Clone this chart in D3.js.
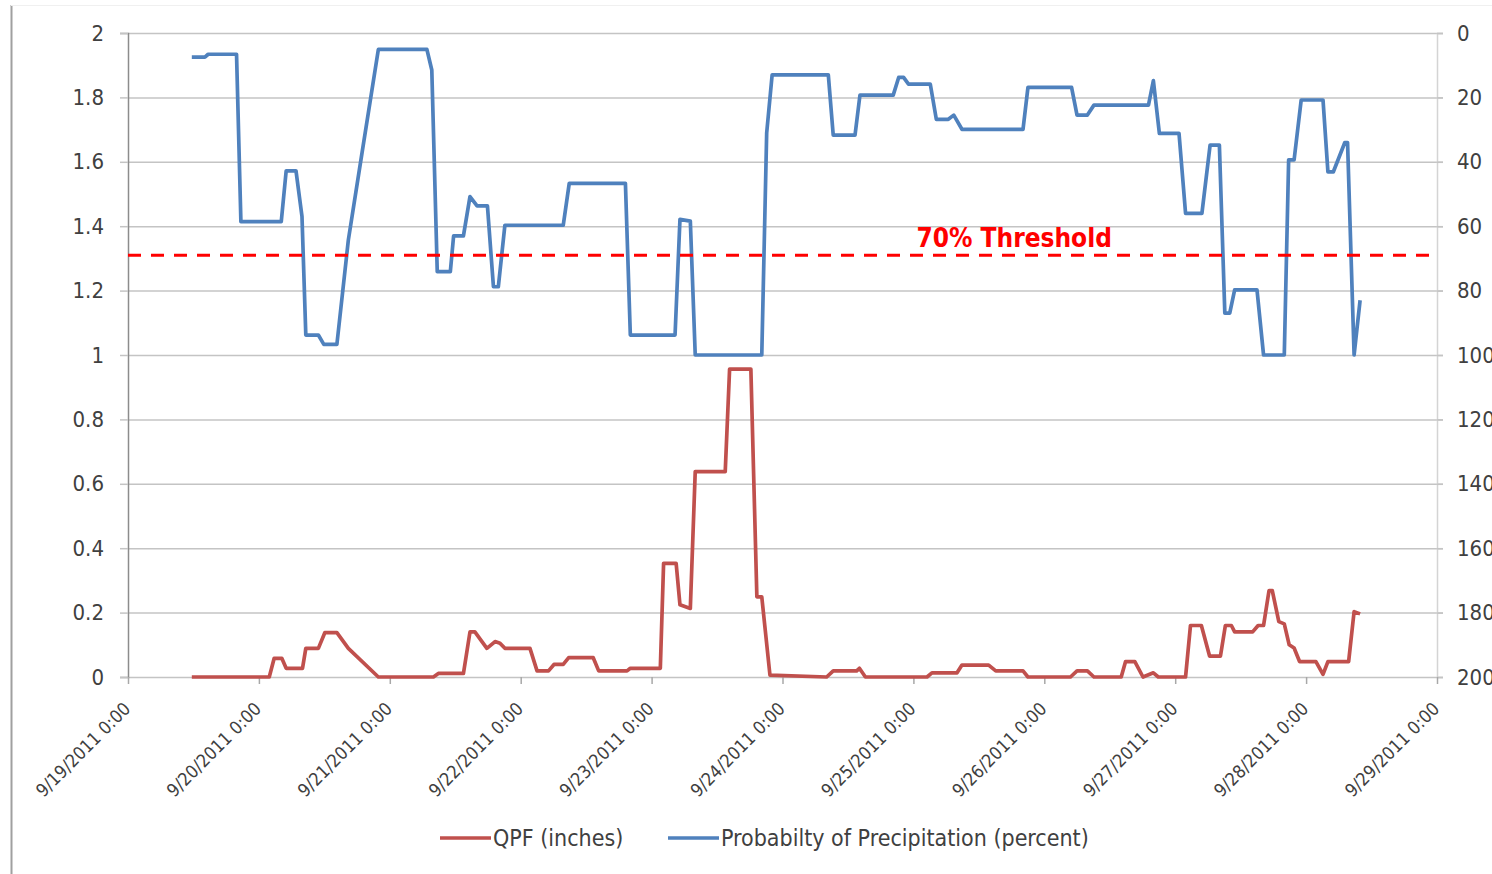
<!DOCTYPE html>
<html>
<head>
<meta charset="utf-8">
<script src="https://cdn.jsdelivr.net/npm/d3@7"></script>
<style>
  body { margin: 0; background: #fff; }
  svg text { font-family: "Liberation Sans Narrow", "DejaVu Sans Condensed", "Open Sans", sans-serif; fill: #404040; }
</style>
</head>
<body>
<div id="chart"></div>
<script>
// QPF vs probability of precipitation, 9/19 - 9/29 2011
// times are hours after 9/19/2011 0:00
const qpfHours = [11.7, 25.9, 26.8, 28.2, 29.0, 32.0, 32.6, 34.9, 36.1, 38.3, 40.4, 45.9, 56.0, 56.9,
    61.5, 62.7, 63.6, 65.8, 67.3, 68.2, 69.1, 73.7, 75.0, 77.1, 78.1, 79.8, 80.8, 85.3, 86.3, 91.5,
    92.1, 97.6, 98.2, 100.5, 101.2, 103.1, 104.0, 109.5, 110.3, 114.2, 115.3, 116.2, 117.7, 128.1,
    129.3, 133.6, 134.1, 135.2, 146.5, 147.4, 152.0, 152.9, 157.8, 159.1, 164.1, 165.0, 172.8, 174.0,
    175.9, 177.1, 182.1, 182.9, 184.6, 186.1, 188.0, 188.9, 193.9, 194.8, 196.8, 198.3, 200.3, 201.2,
    202.3, 202.9, 206.2, 207.2, 208.2, 209.2, 209.8, 211.0, 212.0, 212.9, 213.8, 214.8, 217.8, 219.1,
    220.0, 223.8, 224.8, 225.9];
const qpfValues = [0, 0, 0.058, 0.058, 0.027, 0.027, 0.089, 0.089, 0.138, 0.138, 0.089, 0, 0, 0.011,
    0.011, 0.14, 0.14, 0.089, 0.11, 0.105, 0.089, 0.089, 0.019, 0.019, 0.039, 0.039, 0.06, 0.06, 0.019, 0.019,
    0.027, 0.027, 0.353, 0.353, 0.224, 0.213, 0.638, 0.638, 0.956, 0.956, 0.249, 0.249, 0.006, 0,
    0.019, 0.019, 0.027, 0, 0, 0.013, 0.013, 0.037, 0.037, 0.019, 0.019, 0, 0, 0.019,
    0.019, 0, 0, 0.048, 0.048, 0, 0.013, 0, 0, 0.16, 0.16, 0.065, 0.065, 0.16,
    0.16, 0.14, 0.14, 0.16, 0.16, 0.268, 0.268, 0.172, 0.165, 0.1, 0.09, 0.048, 0.048, 0.008,
    0.048, 0.048, 0.203, 0.196];

const popHours = [11.7, 14.1, 14.7, 19.9, 20.7, 28.1, 29.0, 30.8, 31.9, 32.6, 34.9, 35.9, 38.3, 40.4,
    42.9, 45.9, 54.8, 55.7, 56.7, 59.1, 59.7, 61.5, 62.7, 64.0, 65.9, 67.0, 67.9, 69.1, 79.8, 80.9,
    91.2, 92.1, 100.3, 101.2, 103.1, 104.0, 116.2, 117.1, 118.1, 128.4, 129.3, 133.3, 134.2, 140.3,
    141.3, 142.2, 143.1, 147.1, 148.2, 150.4, 151.4, 152.9, 164.1, 165.0, 173.0, 174.0, 175.9, 177.1,
    187.1, 188.0, 189.1, 192.7, 193.9, 196.9, 198.4, 200.1, 201.1, 202.0, 202.9, 207.0, 208.2, 212.0,
    212.8, 213.8, 215.1, 219.1, 220.0, 221.0, 223.1, 223.6, 224.8, 225.9];
const popValues = [7.5, 7.5, 6.6, 6.6, 58.6, 58.6, 42.8, 42.8, 57, 93.8, 93.8, 96.7, 96.7, 64.3,
    37.3, 5.1, 5.1, 11.5, 74.1, 74.1, 63, 63, 50.8, 53.7, 53.7, 78.8, 78.8, 59.7, 59.7, 46.7,
    46.7, 93.8, 93.8, 57.9, 58.4, 100, 100, 31, 13, 13, 31.7, 31.7, 19.3, 19.3,
    13.8, 13.8, 15.9, 15.9, 26.8, 26.8, 25.5, 29.9, 29.9, 16.9, 16.9, 25.5, 25.5, 22.4,
    22.4, 14.8, 31.2, 31.2, 56, 56, 34.8, 34.8, 87, 87, 79.8, 79.8, 100, 100,
    39.4, 39.4, 20.8, 20.8, 43.1, 43.1, 34, 34, 100, 83];

const threshold = 69;
const thresholdLabel = "70% Threshold";
const leftTicks = [0, 0.2, 0.4, 0.6, 0.8, 1, 1.2, 1.4, 1.6, 1.8, 2];
const leftTickLabels = ["0", "0.2", "0.4", "0.6", "0.8", "1", "1.2", "1.4", "1.6", "1.8", "2"];
const rightTicks = [0, 20, 40, 60, 80, 100, 120, 140, 160, 180, 200];
const seriesNames = ["QPF (inches)", "Probabilty of Precipitation (percent)"];
const colors = ["#C0504D", "#4F81BD"];

const width = 1492, height = 874;
const plot = { left: 128, right: 1437, top: 33, bottom: 677 };
const start = new Date(2011, 8, 19), end = new Date(2011, 8, 29);
const toDate = h => new Date(start.getTime() + h * 3600e3);

const qpf = qpfHours.map((h, i) => ({ t: toDate(h), v: qpfValues[i] }));
const pop = popHours.map((h, i) => ({ t: toDate(h), v: popValues[i] }));

const svg = d3.select("#chart").append("svg")
    .attr("width", width)
    .attr("height", height);

// frame
svg.append("line").attr("x1", 11.5).attr("x2", 11.5).attr("y1", 5).attr("y2", height)
    .attr("stroke", "#a0a0a0").attr("stroke-width", 2);
svg.append("line").attr("x1", 11).attr("x2", width).attr("y1", 5.5).attr("y2", 5.5)
    .attr("stroke", "#f0f0f0");

const x = d3.scaleTime().domain([start, end]).range([plot.left, plot.right]);
const yL = d3.scaleLinear().domain([0, 2]).range([plot.bottom, plot.top]);
const yR = d3.scaleLinear().domain([0, 200]).range([plot.top, plot.bottom]);

// gridlines
svg.append("g")
    .attr("transform", `translate(${plot.left},0)`)
    .call(d3.axisLeft(yL).tickValues(leftTicks).tickSize(-(plot.right - plot.left) - 6).tickFormat(""))
    .call(g => g.select(".domain").remove())
    .call(g => g.selectAll("line").attr("stroke", "#c4c4c4").attr("stroke-width", 1.5));

// left axis
svg.append("g")
    .attr("transform", `translate(${plot.left},0)`)
    .call(d3.axisLeft(yL).tickValues(leftTicks).tickSize(8).tickPadding(16)
        .tickFormat((d, i) => leftTickLabels[i]))
    .call(g => g.select(".domain").attr("stroke", "#8c8c8c").attr("stroke-width", 1.5))
    .call(g => g.selectAll("line").attr("stroke", "#c4c4c4").attr("stroke-width", 1.5))
    .call(g => g.selectAll("text").attr("font-size", 22).attr("fill", "#404040"));

// right axis (labels run off the right edge as in the original)
svg.append("g")
    .attr("transform", `translate(${plot.right},0)`)
    .call(d3.axisRight(yR).tickValues(rightTicks).tickSize(6).tickPadding(14))
    .call(g => g.select(".domain").attr("stroke", "#d4d4d4").attr("stroke-width", 1.5))
    .call(g => g.selectAll("line").attr("stroke", "#c4c4c4").attr("stroke-width", 1.5))
    .call(g => g.selectAll("text").attr("font-size", 22).attr("fill", "#404040"));

// x axis
svg.append("g")
    .attr("transform", `translate(0,${plot.bottom})`)
    .call(d3.axisBottom(x).tickValues(d3.timeDay.range(start, d3.timeDay.offset(end, 1)))
        .tickSize(7).tickFormat(d3.timeFormat("%-m/%-d/%Y %-H:%M")))
    .call(g => g.select(".domain").remove())
    .call(g => g.selectAll("line").attr("stroke", "#a8a8a8").attr("stroke-width", 1.5))
    .call(g => g.selectAll("text")
        .attr("font-size", 18)
        .attr("fill", "#404040")
        .attr("text-anchor", "end")
        .attr("y", 0)
        .attr("dy", 0)
        .attr("transform", "translate(3,33) rotate(-45)"));

const line = y => d3.line().x(d => x(d.t)).y(d => y(d.v));

svg.append("path").datum(qpf)
    .attr("fill", "none").attr("stroke", colors[0]).attr("stroke-width", 3.7)
    .attr("stroke-linejoin", "round")
    .attr("d", line(yL));

svg.append("path").datum(pop)
    .attr("fill", "none").attr("stroke", colors[1]).attr("stroke-width", 3.7)
    .attr("stroke-linejoin", "round")
    .attr("d", line(yR));

// threshold
svg.append("line")
    .attr("x1", plot.left).attr("x2", plot.right)
    .attr("y1", yR(threshold)).attr("y2", yR(threshold))
    .attr("stroke", "#FF0000").attr("stroke-width", 3)
    .attr("stroke-dasharray", "13,10");

svg.append("text")
    .attr("x", x(new Date(2011, 8, 25)) + 3)
    .attr("y", yR(threshold) - 8)
    .attr("font-size", 26)
    .attr("font-weight", "bold")
    .style("fill", "#FF0000")
    .text(thresholdLabel);

// legend
const legendX = [440, 668];
seriesNames.forEach((name, i) => {
    svg.append("line")
        .attr("x1", legendX[i]).attr("x2", legendX[i] + 51)
        .attr("y1", 838).attr("y2", 838)
        .attr("stroke", colors[i]).attr("stroke-width", 3.7);
    svg.append("text")
        .attr("x", legendX[i] + 53).attr("y", 838)
        .attr("dy", "0.35em")
        .attr("font-size", 23)
        .text(name);
});
</script>
</body>
</html>
